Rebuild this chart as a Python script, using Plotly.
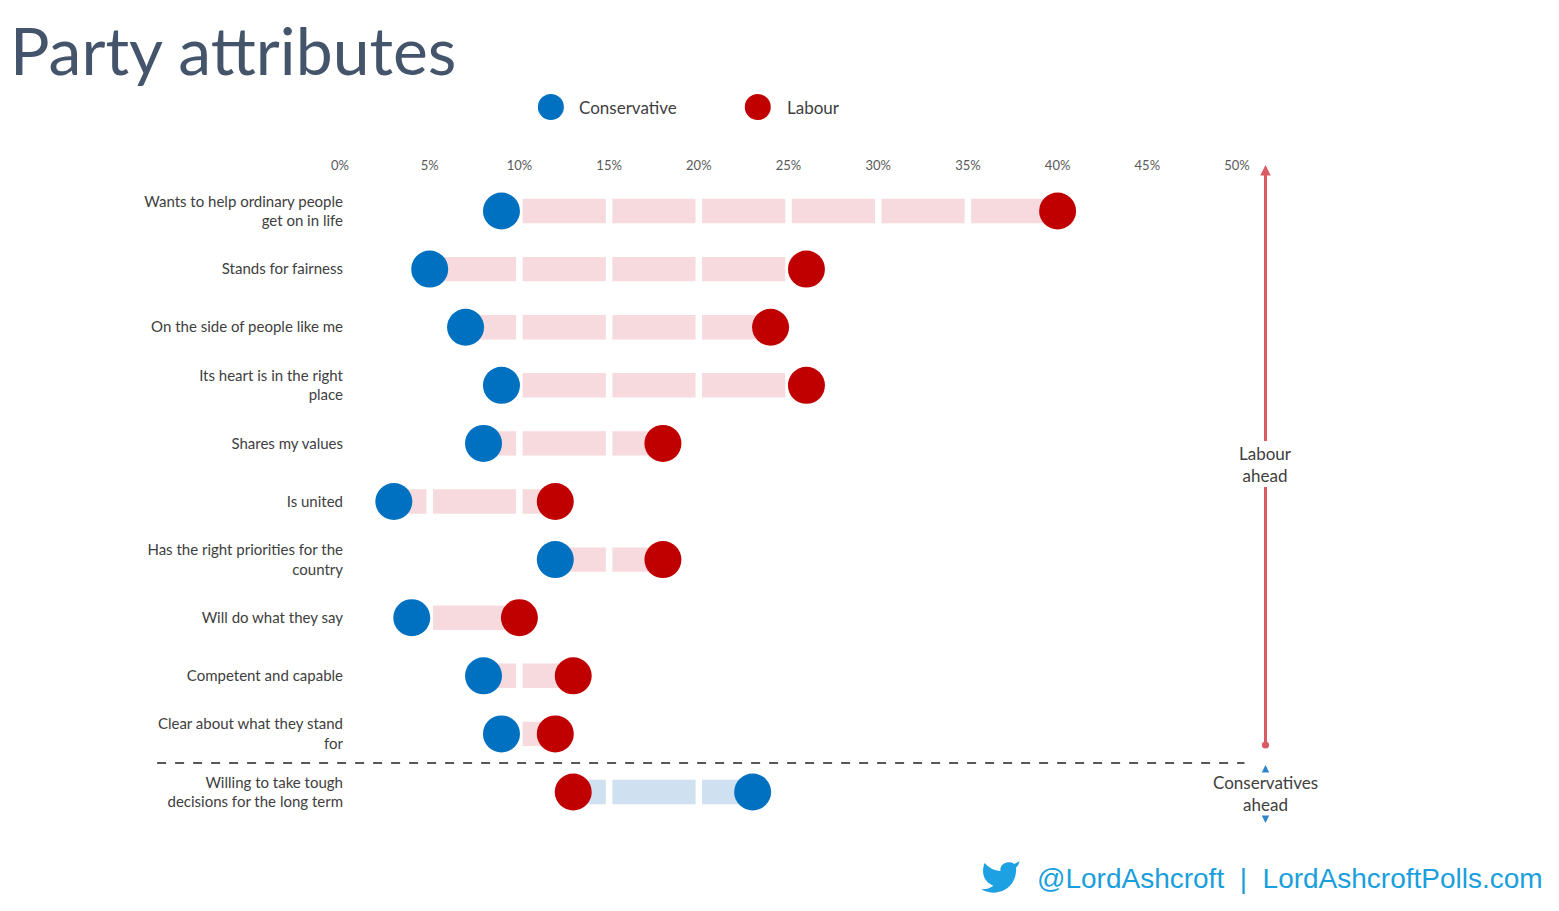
import plotly.graph_objects as go

# ---------------- data ----------------
attributes = [
    "Wants to help ordinary people<br>get on in life",
    "Stands for fairness",
    "On the side of people like me",
    "Its heart is in the right<br>place",
    "Shares my values",
    "Is united",
    "Has the right priorities for the<br>country",
    "Will do what they say",
    "Competent and capable",
    "Clear about what they stand<br>for",
    "Willing to take tough<br>decisions for the long term",
]
conservative = [9, 5, 7, 9, 8, 3, 12, 4, 8, 9, 23]
labour = [40, 26, 24, 26, 18, 12, 18, 10, 13, 12, 13]
tick_values = [0, 5, 10, 15, 20, 25, 30, 35, 40, 45, 50]
tick_labels = ["0%", "5%", "10%", "15%", "20%", "25%", "30%", "35%", "40%", "45%", "50%"]

# ---------------- styles ----------------
CON = "#0070c0"
LAB = "#c00000"
PINK = "#f6dadd"
LBLUE = "#cfe0f1"
TXT = "#404040"
FONT = "Lato"

OFF = 8                      # page body margin
W, H = 1559 - OFF, 911 - OFF
L, T = 340 - OFF, 180 - OFF
PW, PH = 897.5, 650
R, B = W - L - PW, H - T - PH


def px_x(p):                 # screen pixel -> paper x
    return (p - OFF - L) / PW


def px_y(p):                 # screen pixel -> paper y
    return (T + PH - (p - OFF)) / PH


rows = list(range(len(attributes)))
base = [min(c, l) for c, l in zip(conservative, labour)]
length = [abs(l - c) for c, l in zip(conservative, labour)]
bar_colors = [PINK if l >= c else LBLUE for c, l in zip(conservative, labour)]

fig = go.Figure()

fig.add_trace(go.Bar(
    y=rows, x=length, base=base, orientation="h", width=0.42,
    marker=dict(color=bar_colors, line=dict(width=0)),
    hoverinfo="skip", showlegend=False,
))

# white gaps at every tick, cutting the bars into segments
gx, gy = [], []
for t in tick_values:
    gx += [t, t, None]
    gy += [-0.5, len(rows) - 0.5, None]
fig.add_trace(go.Scatter(
    x=gx, y=gy, mode="lines", line=dict(color="white", width=6.5),
    hoverinfo="skip", showlegend=False,
))

fig.add_trace(go.Scatter(
    x=conservative, y=rows, mode="markers", name="Conservative",
    marker=dict(color=CON, size=37, line=dict(width=0)),
    cliponaxis=False, showlegend=False,
))
fig.add_trace(go.Scatter(
    x=labour, y=rows, mode="markers", name="Labour",
    marker=dict(color=LAB, size=37, line=dict(width=0)),
    cliponaxis=False, showlegend=False,
))

shapes = []
# dashed separator
shapes.append(dict(type="line", xref="paper", yref="y",
                   x0=px_x(157), x1=px_x(1245), y0=len(rows) - 1.5, y1=len(rows) - 1.5,
                   line=dict(color="#222222", width=1.5, dash="dash")))
# legend circles
for cx, col in [(551, CON), (758, LAB)]:
    shapes.append(dict(type="circle", xref="paper", yref="paper",
                       xsizemode="pixel", ysizemode="pixel",
                       xanchor=px_x(cx), yanchor=px_y(107),
                       x0=-13, x1=13, y0=-13, y1=13,
                       fillcolor=col, line=dict(width=0)))

# twitter bird (feather-style outline scaled to pixels)
bird_pts = "M23 3 L19.86 4.53 C18 2.6 12.2 3.5 12 7.53 L12 8.53 Q6.5 8.2 3 4 C3 4 -1 13 8 17 Q4.8 19.3 1 19 C10 24 21 19 21 7.5 L20.92 6.67 Q22.6 5 23 3 Z"


def conv_path(p, s=1.75, cx=11, cy=12):
    out = []
    toks = p.replace(",", " ").split()
    nums = []

    def flush():
        for i in range(0, len(nums), 2):
            out.append(f"{(nums[i]-cx)*s:.2f},{-(nums[i+1]-cy)*s:.2f}")
        nums.clear()

    for tk in toks:
        if tk[0].isalpha():
            flush()
            out.append(tk[0])
            if tk[1:]:
                nums.append(float(tk[1:]))
        else:
            nums.append(float(tk))
    flush()
    return " ".join(out)


shapes.append(dict(type="path", xref="paper", yref="paper",
                   xsizemode="pixel", ysizemode="pixel",
                   xanchor=px_x(999), yanchor=px_y(877),
                   path=conv_path(bird_pts), fillcolor="#1da1e2", line=dict(width=0)))

annotations = [
    dict(text="Conservative", xref="paper", yref="paper", x=px_x(577), y=px_y(107),
         xanchor="left", yanchor="middle", showarrow=False,
         font=dict(family=FONT, size=17, color=TXT)),
    dict(text="Labour", xref="paper", yref="paper", x=px_x(785), y=px_y(107),
         xanchor="left", yanchor="middle", showarrow=False,
         font=dict(family=FONT, size=17, color=TXT)),
    # Labour ahead arrow (up)
    dict(text="Labour<br>ahead", xref="paper", yref="paper", x=px_x(1266), y=px_y(165),
         ax=0, ay=464 - 165, showarrow=True, arrowhead=2, arrowsize=0.7, arrowwidth=3,
         arrowcolor="#db5a63", font=dict(family=FONT, size=17, color=TXT)),
    dict(text="Labour<br>ahead", xref="paper", yref="paper", x=px_x(1266), y=px_y(745),
         ax=0, ay=464 - 745, showarrow=True, arrowhead=6, arrowsize=0.6, arrowwidth=3,
         arrowcolor="#db5a63", font=dict(family=FONT, size=17, color="rgba(0,0,0,0)")),
    # Conservatives ahead
    dict(text="Conservatives<br>ahead", xref="paper", yref="paper", x=px_x(1266), y=px_y(765),
         ax=0, ay=793 - 765, showarrow=True, arrowhead=2, arrowsize=1, arrowwidth=1.5,
         arrowcolor="#2e86c8", font=dict(family=FONT, size=17, color=TXT)),
    dict(text="Conservatives<br>ahead", xref="paper", yref="paper", x=px_x(1266), y=px_y(823),
         ax=0, ay=793 - 823, showarrow=True, arrowhead=2, arrowsize=1, arrowwidth=1.5,
         arrowcolor="#2e86c8", font=dict(family=FONT, size=17, color="rgba(0,0,0,0)")),
    # footer
    dict(text="@LordAshcroft\u00a0\u00a0|\u00a0\u00a0LordAshcroftPolls.com", xref="paper", yref="paper",
         x=px_x(1546), y=px_y(878), xanchor="right", yanchor="middle", showarrow=False,
         font=dict(family="Liberation Sans, Arial", size=28, color="#1a9fdc")),
    # title (box kept inside the page)
    dict(text="Party attributes", xref="paper", yref="paper", x=px_x(9), y=px_y(9),
         xanchor="left", yanchor="top", showarrow=False, borderpad=0,
         font=dict(family=FONT, size=66, color="#44546a")),
]

fig.update_layout(
    width=W, height=H,
    margin=dict(l=L, r=R, t=T, b=B, autoexpand=False),
    paper_bgcolor="white", plot_bgcolor="white",
    barmode="overlay",
    xaxis=dict(range=[0, 50], side="top", tickvals=tick_values, ticktext=tick_labels,
               showgrid=False, zeroline=False, showline=False, ticks="",
               ticklabelstandoff=6,
               tickfont=dict(family=FONT, size=13, color="#595959"), fixedrange=True),
    yaxis=dict(range=[10.654, -0.534], tickvals=rows, ticktext=attributes,
               showgrid=False, zeroline=False, showline=False, ticks="",
               ticklabelstandoff=-4,
               tickfont=dict(family=FONT, size=15, color=TXT), fixedrange=True),
    shapes=shapes,
    annotations=annotations,
    showlegend=False,
)

fig.write_html("out.html")
